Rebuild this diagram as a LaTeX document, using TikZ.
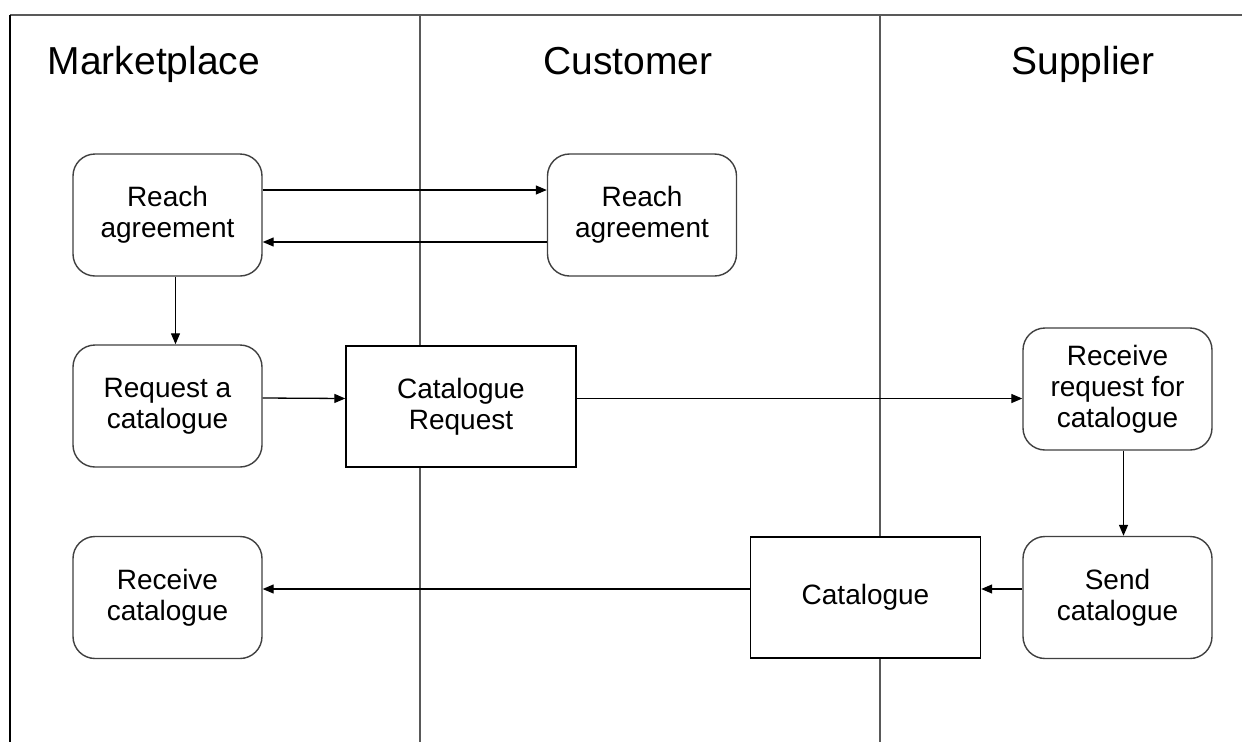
\documentclass[tikz,border=0pt]{standalone}
\usepackage{fontspec}
\setmainfont{Liberation Sans}
\usetikzlibrary{arrows.meta}
\begin{document}
\begin{tikzpicture}[x=1pt,y=-1pt,
  lane/.style={line width=1.5pt,draw=black!65},
  laneTitle/.style={font=\fontsize{39}{44}\selectfont,anchor=base},
  task/.style={draw=black!75,line width=1.4pt,rounded corners=22pt,fill=white,
    minimum width=189pt,minimum height=122pt,align=center,inner sep=0pt,
    font=\fontsize{28}{31}\selectfont},
  doc/.style={draw=black,line width=1.4pt,fill=white,
    minimum width=230pt,minimum height=121pt,align=center,inner sep=0pt,
    font=\fontsize{28}{31}\selectfont},
  flow/.style={draw=black,line width=1.3pt,-{Triangle[length=11pt,width=9pt]}}]
\useasboundingbox (0,0) rectangle (1242,742);
\fill[white] (0,0) rectangle (1242,742);

% swimlane frame
\coordinate (tl) at (10,15);
\coordinate (tr) at (1242,15);
\coordinate (bl) at (10,742);
\draw[lane] (tr) -- (tl);
\draw[line width=2pt,black] (tl) -- (bl);
\coordinate (s1t) at (420,15);
\coordinate (s1b) at (420,742);
\coordinate (s2t) at (880,15);
\coordinate (s2b) at (880,742);
\draw[lane] (s1t) -- (s1b);
\draw[lane] (s2t) -- (s2b);

% lane titles
\node[laneTitle] (tm) at (154,74) {Marketplace};
\node[laneTitle] (tc) at (628,74) {Customer};
\node[laneTitle] (ts) at (1083,74) {Supplier};

% activities
\node[task] (ra1) at (167.5,215) {Reach\\agreement};
\node[task] (ra2) at (642,215) {Reach\\agreement};
\node[task] (rq)  at (167.5,406) {Request a\\catalogue};
\node[task] (rc)  at (167.5,597.5) {Receive\\catalogue};
\node[task] (rr)  at (1117.5,389) {Receive\\request for\\catalogue};
\node[task] (sc)  at (1117.5,597.5) {Send\\catalogue};

% documents
\node[doc] (cr) at (461,406.5) {Catalogue\\Request};
\node[doc] (ct) at (865.5,597.5) {Catalogue};

% message flows (yshift is measured upwards)
\draw[flow] ([yshift=25pt]ra1.east) -- ([yshift=25pt]ra2.west);
\draw[flow] ([yshift=-27pt]ra2.west) -- ([yshift=-27pt]ra1.east);
\draw[flow] ([xshift=8pt]ra1.south) -- ([xshift=8pt]rq.north);
\draw[flow] ([yshift=8pt]rq.east) -- ([yshift=8pt]cr.west);
\draw[flow] ([yshift=8pt]cr.east) -- ([yshift=-9.5pt]rr.west);
\draw[flow] ([xshift=6pt]rr.south) -- ([xshift=6pt]sc.north);
\draw[flow] ([yshift=8.5pt]sc.west) -- ([yshift=8.5pt]ct.east);
\draw[flow] ([yshift=8.5pt]ct.west) -- ([yshift=8.5pt]rc.east);
\end{tikzpicture}
\end{document}
